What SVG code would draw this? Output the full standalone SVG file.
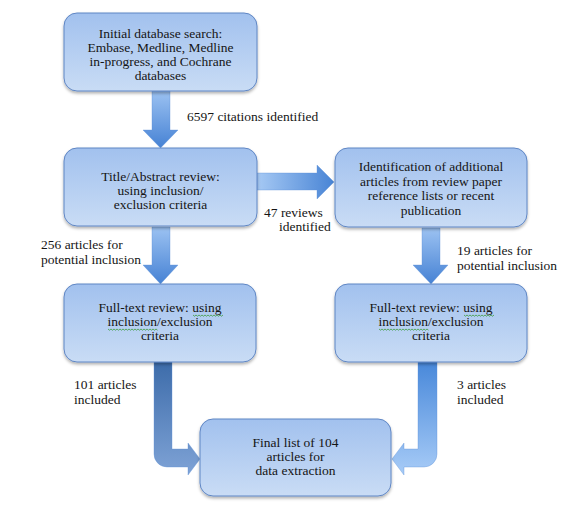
<svg xmlns="http://www.w3.org/2000/svg" width="587" height="507" viewBox="0 0 587 507">
<defs>
<linearGradient id="boxFill" x1="0" y1="0" x2="0" y2="1">
<stop offset="0" stop-color="#a2c1ee"/>
<stop offset="1" stop-color="#c9dcf5"/>
</linearGradient>
<linearGradient id="vArrow" x1="0" y1="0" x2="0" y2="1">
<stop offset="0" stop-color="#9cc2f2"/>
<stop offset="1" stop-color="#4682d4"/>
</linearGradient>
<linearGradient id="hArrow" x1="0" y1="0" x2="1" y2="0">
<stop offset="0" stop-color="#a6c9f4"/>
<stop offset="1" stop-color="#4884d5"/>
</linearGradient>
<linearGradient id="lBent" x1="0" y1="0" x2="0" y2="1">
<stop offset="0" stop-color="#3d6caa"/>
<stop offset="1" stop-color="#7fa3d6"/>
</linearGradient>
<linearGradient id="rBent" x1="0" y1="0" x2="0" y2="1">
<stop offset="0" stop-color="#4888da"/>
<stop offset="1" stop-color="#a8ccf7"/>
</linearGradient>
<filter id="shadow" x="-10%" y="-10%" width="120%" height="130%">
<feDropShadow dx="0" dy="2" stdDeviation="1.5" flood-color="#000" flood-opacity="0.3"/>
</filter>
</defs>
<style>
.box { fill: url(#boxFill); stroke: #5f86c4; stroke-width: 1; filter: url(#shadow); }
.t { font-family: "Liberation Serif", "Times New Roman", serif; font-size: 13.5px; fill: #151515; }
.c { text-anchor: middle; }
.arrow { stroke: #5d8fd6; stroke-width: 0.6; stroke-opacity: 0.6; }
.sq { fill: none; stroke: #3c9b3c; stroke-width: 0.8; }
</style>
<rect width="587" height="507" fill="#ffffff"/>

<g id="connectors">
<path class="arrow" fill="url(#vArrow)" d="M152,91 H170 V130 H178 L160.5,148 L143,130 H152 Z"/>
<path class="arrow" fill="url(#vArrow)" d="M152,227 H170 V265 H178 L160.5,284 L143,265 H152 Z"/>
<path class="arrow" fill="url(#vArrow)" d="M422,228 H440 V265 H448 L431,284 L413,265 H422 Z"/>
<path class="arrow" fill="url(#hArrow)" d="M257,173 H317 V165 L334,182 L317,199 V190 H257 Z"/>
<path class="arrow" fill="url(#lBent)" d="M154,362 H172 V449 H188 V443 L200,459 L188,475 V467 H167 A13,13 0 0 1 154,454 Z"/>
<path class="arrow" fill="url(#rBent)" d="M418,362 H437 V454 A13,13 0 0 1 424,467 H404 V475 L392,459 L404,443 V449 H418 Z"/>
<text class="t" x="187" y="121">6597 citations identified</text>
<text class="t" x="264" y="217">47 reviews</text>
<text class="t" x="279" y="231">identified</text>
<text class="t" x="41" y="249">256 articles for</text>
<text class="t" x="41" y="264">potential inclusion</text>
<text class="t" x="457" y="255">19 articles for</text>
<text class="t" x="457" y="270">potential inclusion</text>
<text class="t" x="74" y="389">101 articles</text>
<text class="t" x="74" y="404">included</text>
<text class="t" x="457" y="389">3 articles</text>
<text class="t" x="457" y="404">included</text>
</g>

<g id="node-initial-search">
<rect class="box" x="64" y="13" width="193" height="78" rx="13"/>
<text class="t c" x="160.5" y="38">Initial database search:</text>
<text class="t c" x="160.5" y="52">Embase, Medline, Medline</text>
<text class="t c" x="160.5" y="66">in-progress, and Cochrane</text>
<text class="t c" x="160.5" y="80">databases</text>
</g>

<g id="node-title-abstract">
<rect class="box" x="64" y="148" width="193" height="78" rx="13"/>
<text class="t c" x="160.5" y="181">Title/Abstract review:</text>
<text class="t c" x="160.5" y="195">using inclusion/</text>
<text class="t c" x="160.5" y="209">exclusion criteria</text>
</g>

<g id="node-additional">
<rect class="box" x="335" y="148" width="192" height="79" rx="13"/>
<text class="t c" x="431" y="171">Identification of additional</text>
<text class="t c" x="431" y="186">articles from review paper</text>
<text class="t c" x="431" y="200">reference lists or recent</text>
<text class="t c" x="431" y="215">publication</text>
</g>

<g id="node-fulltext-left">
<rect class="box" x="64" y="284" width="192" height="78" rx="13"/>
<text class="t c" x="160" y="312">Full-text review: using</text>
<text class="t c" x="160" y="326">inclusion/exclusion</text>
<text class="t c" x="160" y="340">criteria</text>
<path class="sq" d="M193,315 l1.5,1.2 l1.5,-1.2 l1.5,1.2 l1.5,-1.2 l1.5,1.2 l1.5,-1.2 l1.5,1.2 l1.5,-1.2 l1.5,1.2 l1.5,-1.2 l1.5,1.2 l1.5,-1.2 l1.5,1.2 l1.5,-1.2 l1.5,1.2 l1.5,-1.2 l1.5,1.2 l1.5,-1.2 l1.5,1.2 l1.5,-1.2"/>
<path class="sq" d="M108,329 l1.5,1.2 l1.5,-1.2 l1.5,1.2 l1.5,-1.2 l1.5,1.2 l1.5,-1.2 l1.5,1.2 l1.5,-1.2 l1.5,1.2 l1.5,-1.2 l1.5,1.2 l1.5,-1.2 l1.5,1.2 l1.5,-1.2 l1.5,1.2 l1.5,-1.2 l1.5,1.2 l1.5,-1.2 l1.5,1.2 l1.5,-1.2 l1.5,1.2 l1.5,-1.2 l1.5,1.2 l1.5,-1.2 l1.5,1.2 l1.5,-1.2 l1.5,1.2 l1.5,-1.2 l1.5,1.2 l1.5,-1.2 l1.5,1.2 l1.5,-1.2 l1.5,1.2"/>
</g>

<g id="node-fulltext-right">
<rect class="box" x="335" y="284" width="192" height="78" rx="13"/>
<text class="t c" x="431" y="312">Full-text review: using</text>
<text class="t c" x="431" y="326">inclusion/exclusion</text>
<text class="t c" x="431" y="340">criteria</text>
<path class="sq" d="M464,315 l1.5,1.2 l1.5,-1.2 l1.5,1.2 l1.5,-1.2 l1.5,1.2 l1.5,-1.2 l1.5,1.2 l1.5,-1.2 l1.5,1.2 l1.5,-1.2 l1.5,1.2 l1.5,-1.2 l1.5,1.2 l1.5,-1.2 l1.5,1.2 l1.5,-1.2 l1.5,1.2 l1.5,-1.2 l1.5,1.2 l1.5,-1.2"/>
<path class="sq" d="M379,329 l1.5,1.2 l1.5,-1.2 l1.5,1.2 l1.5,-1.2 l1.5,1.2 l1.5,-1.2 l1.5,1.2 l1.5,-1.2 l1.5,1.2 l1.5,-1.2 l1.5,1.2 l1.5,-1.2 l1.5,1.2 l1.5,-1.2 l1.5,1.2 l1.5,-1.2 l1.5,1.2 l1.5,-1.2 l1.5,1.2 l1.5,-1.2 l1.5,1.2 l1.5,-1.2 l1.5,1.2 l1.5,-1.2 l1.5,1.2 l1.5,-1.2 l1.5,1.2 l1.5,-1.2 l1.5,1.2 l1.5,-1.2 l1.5,1.2 l1.5,-1.2 l1.5,1.2"/>
</g>

<g id="node-final">
<rect class="box" x="200" y="419" width="191" height="77" rx="13"/>
<text class="t c" x="295.5" y="447">Final list of 104</text>
<text class="t c" x="295.5" y="461">articles for</text>
<text class="t c" x="295.5" y="475">data extraction</text>
</g>
</svg>
